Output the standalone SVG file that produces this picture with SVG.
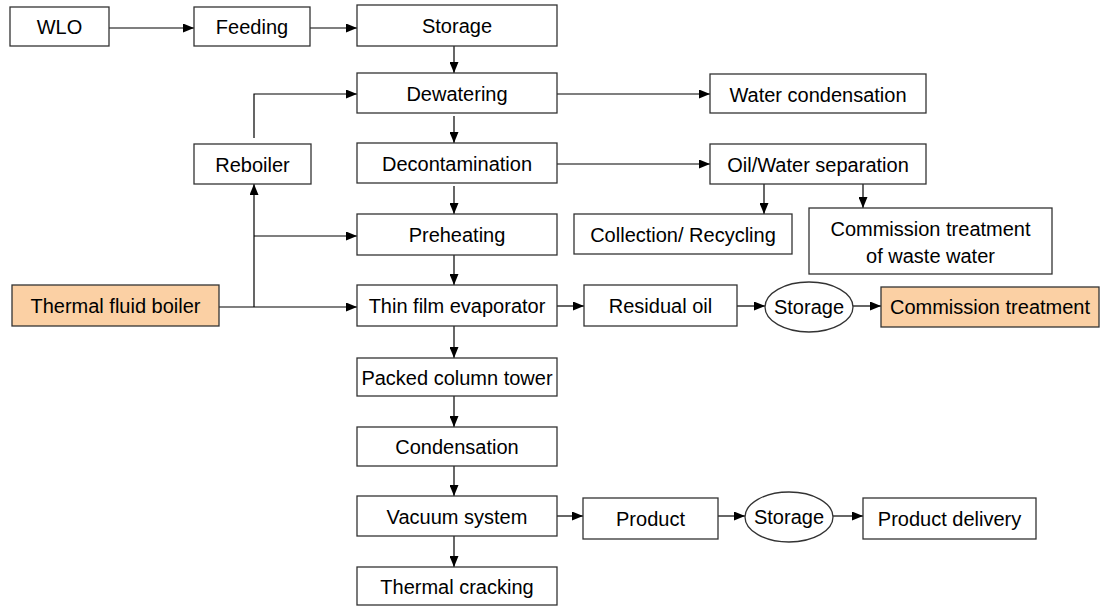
<svg xmlns="http://www.w3.org/2000/svg" width="1103" height="606" viewBox="0 0 1103 606">
<defs>
<marker id="ah" markerWidth="11" markerHeight="9" refX="11" refY="4.5" orient="auto" markerUnits="userSpaceOnUse">
<path d="M0,0 L11,4.5 L0,9 Z" fill="#000"/>
</marker>
<style>
.b{fill:#fff;stroke:#333;stroke-width:1.3}
.o{fill:#FBD0A4;stroke:#333;stroke-width:1.3}
.t{font-family:"Liberation Sans",Arial,sans-serif;font-size:20px;fill:#000;text-anchor:middle;dominant-baseline:central}
.c{fill:none;stroke:#000;stroke-width:1.2}
.a{marker-end:url(#ah)}
</style>
</defs>
<rect width="1103" height="606" fill="#fff"/>
<g id="connectors">
<path class="c a" d="M109,28 H194"/>
<path class="c a" d="M310,28 H357"/>
<path class="c a" d="M454,46 V73"/>
<path class="c a" d="M454,116 V143"/>
<path class="c a" d="M454,186 V214"/>
<path class="c a" d="M454,255 V285"/>
<path class="c a" d="M454,326 V358"/>
<path class="c a" d="M454,396 V427"/>
<path class="c a" d="M454,466 V496"/>
<path class="c a" d="M454,536 V567"/>
<path class="c a" d="M557,94 H710"/>
<path class="c a" d="M557,164 H710"/>
<path class="c a" d="M764,184 V214"/>
<path class="c a" d="M863,184 V208"/>
<path class="c a" d="M254,138 V94 H357"/>
<path class="c" d="M219,307 H254"/>
<path class="c a" d="M254,307 H357"/>
<path class="c a" d="M254,307 V184"/>
<path class="c a" d="M254,236 H357"/>
<path class="c a" d="M557,306 H584"/>
<path class="c a" d="M737,306 H765"/>
<path class="c a" d="M853,306 H881"/>
<path class="c a" d="M557,516 H583"/>
<path class="c a" d="M718,516 H745"/>
<path class="c a" d="M833,516 H863"/>
</g>
<g id="wlo"><rect class="b" x="10" y="7" width="99" height="39"/><text class="t" x="59.5" y="27">WLO</text></g>
<g id="feeding"><rect class="b" x="194" y="7" width="116" height="39"/><text class="t" x="252" y="27">Feeding</text></g>
<g id="storage1"><rect class="b" x="357" y="5" width="200" height="41"/><text class="t" x="457" y="26">Storage</text></g>
<g id="dewatering"><rect class="b" x="357" y="73" width="200" height="40"/><text class="t" x="457" y="94">Dewatering</text></g>
<g id="decontamination"><rect class="b" x="357" y="143" width="200" height="40"/><text class="t" x="457" y="164">Decontamination</text></g>
<g id="preheating"><rect class="b" x="357" y="214" width="200" height="41"/><text class="t" x="457" y="235">Preheating</text></g>
<g id="thinfilm"><rect class="b" x="357" y="285" width="200" height="41"/><text class="t" x="457" y="306">Thin film evaporator</text></g>
<g id="packed"><rect class="b" x="357" y="358" width="200" height="38"/><text class="t" x="457" y="378">Packed column tower</text></g>
<g id="condensation"><rect class="b" x="357" y="427" width="200" height="39"/><text class="t" x="457" y="447">Condensation</text></g>
<g id="vacuum"><rect class="b" x="357" y="496" width="200" height="40"/><text class="t" x="457" y="517">Vacuum system</text></g>
<g id="cracking"><rect class="b" x="357" y="567" width="200" height="38"/><text class="t" x="457" y="587">Thermal cracking</text></g>
<g id="reboiler"><rect class="b" x="194" y="144" width="117" height="40"/><text class="t" x="252.5" y="165">Reboiler</text></g>
<g id="boiler"><rect class="o" x="12" y="285" width="207" height="41"/><text class="t" x="115.5" y="306">Thermal fluid boiler</text></g>
<g id="watercond"><rect class="b" x="710" y="74" width="216" height="39"/><text class="t" x="818" y="95">Water condensation</text></g>
<g id="oilwater"><rect class="b" x="710" y="144" width="216" height="40"/><text class="t" x="818" y="165">Oil/Water separation</text></g>
<g id="collection"><rect class="b" x="574" y="214" width="218" height="40"/><text class="t" x="683" y="235">Collection/ Recycling</text></g>
<g id="wastewater"><rect class="b" x="809" y="208" width="243" height="66"/><text class="t" x="930.5" y="229">Commission treatment</text><text class="t" x="930.5" y="256">of waste water</text></g>
<g id="residual"><rect class="b" x="584" y="285" width="153" height="41"/><text class="t" x="660.5" y="306">Residual oil</text></g>
<g id="storage2"><ellipse class="b" cx="809" cy="307" rx="44" ry="25"/><text class="t" x="809" y="307">Storage</text></g>
<g id="commission"><rect class="o" x="881" y="287" width="218" height="40"/><text class="t" x="990" y="307">Commission treatment</text></g>
<g id="product"><rect class="b" x="583" y="498" width="135" height="41"/><text class="t" x="650.5" y="519">Product</text></g>
<g id="storage3"><ellipse class="b" cx="789" cy="517" rx="44" ry="25"/><text class="t" x="789" y="517">Storage</text></g>
<g id="delivery"><rect class="b" x="863" y="498" width="173" height="41"/><text class="t" x="949.5" y="519">Product delivery</text></g>
</svg>
